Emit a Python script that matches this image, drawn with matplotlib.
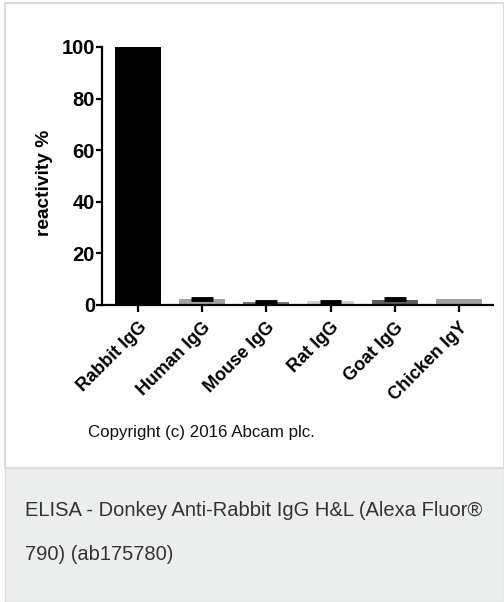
import matplotlib.pyplot as plt
from matplotlib.patches import Rectangle

# ── Data ────────────────────────────────────────────────────────────────────
species    = ["Rabbit IgG", "Human IgG", "Mouse IgG", "Rat IgG", "Goat IgG", "Chicken IgY"]
reactivity = [100.0, 2.5, 1.2, 1.6, 2.0, 2.5]
err_top    = [None, 2.4, 1.1, 1.1, 2.4, None]   # upper error caps, None = not visible
bar_colors = ["#000000", "#a3a3a3", "#7a7a7a", "#d2d2d2", "#5e5e5e", "#a0a0a0"]
caption    = ["ELISA - Donkey Anti-Rabbit IgG H&L (Alexa Fluor®", "790) (ab175780)"]
copyright_ = "Copyright (c) 2016 Abcam plc."

plt.rcParams["font.family"] = ["Liberation Sans", "DejaVu Sans"]

W, H = 504, 602
fig = plt.figure(figsize=(W / 100, H / 100), dpi=100)

# ── Card background / border / caption panel ────────────────────────────────
fig.patches.append(Rectangle((5 / W, (H - 468) / H), 1 - 5 / W, 465 / H,
                             transform=fig.transFigure, facecolor="white",
                             edgecolor="#dcdcdc", lw=1.5, zorder=0))
fig.patches.append(Rectangle((5 / W, 0), 1 - 5 / W, (H - 468) / H,
                             transform=fig.transFigure, facecolor="#eceeed",
                             edgecolor="#dcdcdc", lw=1.0, zorder=0))

# ── Axes ────────────────────────────────────────────────────────────────────
ax = fig.add_axes([102 / W, (H - 305) / H, (493 - 102) / W, (305 - 47) / H])
ax.set_zorder(2)
ax.patch.set_alpha(0)
x = range(len(species))
ax.bar(x, reactivity, width=0.72, color=bar_colors, zorder=2)
# error-bar caps (upper only)
for xi, top in zip(x, err_top):
    if top is None:
        continue
    ax.plot([xi - 0.17, xi + 0.17], [top, top], color="black", lw=3.5,
            solid_capstyle="butt", zorder=3)

ax.set_xlim(-0.56, 5.53)
ax.set_ylim(0, 100)
ax.set_yticks([0, 20, 40, 60, 80, 100])
ax.set_xticks(list(x))
ax.set_xticklabels(species, rotation=45, ha="right", rotation_mode="anchor",
                   fontsize=13, fontweight="bold")
for lbl in ax.get_yticklabels():
    lbl.set_fontweight("bold")
    lbl.set_fontsize(14.5)
ax.set_ylabel("reactivity %", fontsize=13.8, fontweight="bold")
ax.yaxis.set_label_coords(-0.125, 0.475)
for s in ["top", "right"]:
    ax.spines[s].set_visible(False)
for s in ["left", "bottom"]:
    ax.spines[s].set_linewidth(1.6)
ax.tick_params(axis="y", width=1.6, length=4, pad=1)
ax.tick_params(axis="x", width=1.6, length=5, pad=5)

# ── Texts ───────────────────────────────────────────────────────────────────
fig.text(88 / W, 1 - 433 / H, copyright_, fontsize=12.2, va="center", ha="left",
         color="#111111")
fig.text(25 / W, 1 - 511 / H, caption[0], fontsize=14.5, va="center", ha="left",
         color="#333333")
fig.text(25 / W, 1 - 554 / H, caption[1], fontsize=14.5, va="center", ha="left",
         color="#333333")

fig.savefig("out.png", dpi=100)
